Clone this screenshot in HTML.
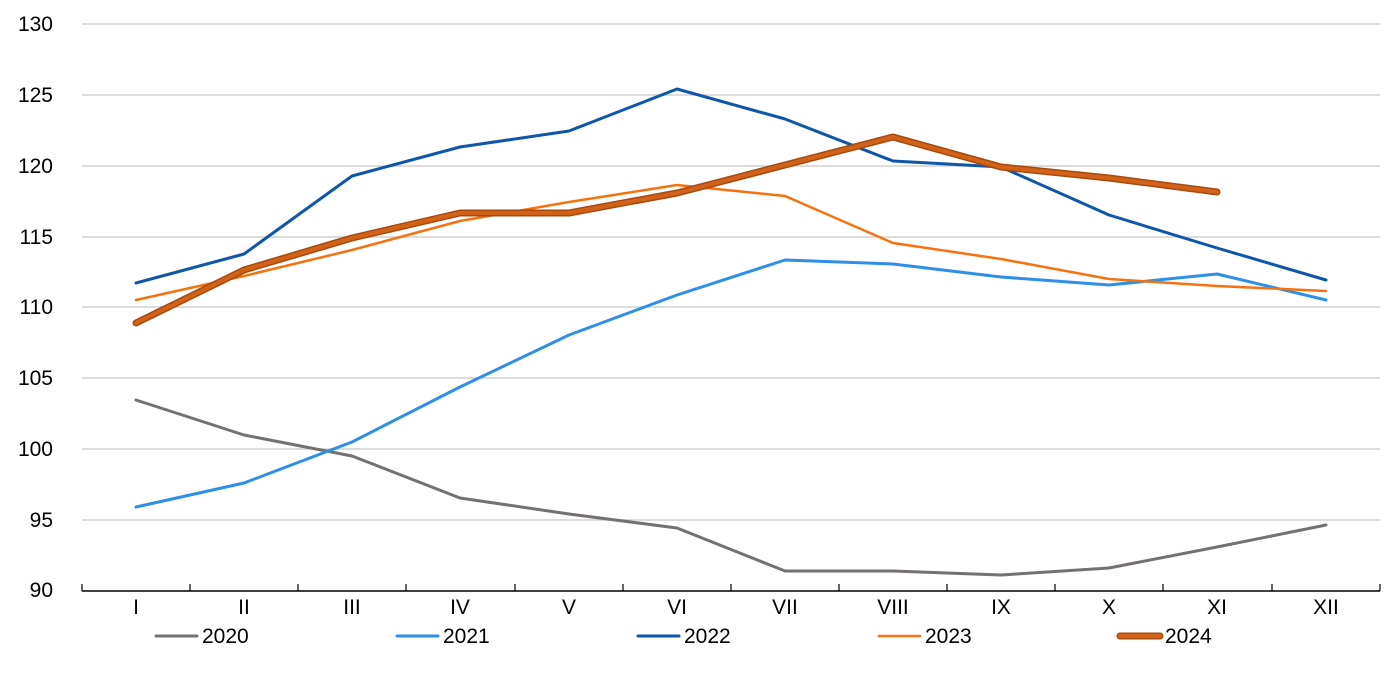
<!DOCTYPE html>
<html><head><meta charset="utf-8"><style>
html,body{margin:0;padding:0;background:#fff;}
svg{display:block;}
text{font-family:"Liberation Sans",sans-serif;font-size:21px;fill:#000;}
</style></head><body>
<svg width="1400" height="678" viewBox="0 0 1400 678" xmlns="http://www.w3.org/2000/svg">
<g stroke="#d0d0d0" stroke-width="1.5">
<line x1="82" y1="24" x2="1380" y2="24"/>
<line x1="82" y1="95" x2="1380" y2="95"/>
<line x1="82" y1="166" x2="1380" y2="166"/>
<line x1="82" y1="237" x2="1380" y2="237"/>
<line x1="82" y1="307" x2="1380" y2="307"/>
<line x1="82" y1="378" x2="1380" y2="378"/>
<line x1="82" y1="449" x2="1380" y2="449"/>
<line x1="82" y1="520" x2="1380" y2="520"/>
</g>
<line x1="82" y1="591" x2="1380" y2="591" stroke="#000" stroke-width="1.5"/>
<g stroke="#000" stroke-width="1.2">
<line x1="82" y1="584" x2="82" y2="591"/><line x1="190" y1="584" x2="190" y2="591"/><line x1="298" y1="584" x2="298" y2="591"/><line x1="406" y1="584" x2="406" y2="591"/><line x1="515" y1="584" x2="515" y2="591"/><line x1="623" y1="584" x2="623" y2="591"/><line x1="731" y1="584" x2="731" y2="591"/><line x1="839" y1="584" x2="839" y2="591"/><line x1="947" y1="584" x2="947" y2="591"/><line x1="1055" y1="584" x2="1055" y2="591"/><line x1="1163" y1="584" x2="1163" y2="591"/><line x1="1272" y1="584" x2="1272" y2="591"/><line x1="1380" y1="584" x2="1380" y2="591"/>
</g>
<g text-anchor="end">
<text x="53" y="31">130</text><text x="53" y="102">125</text><text x="53" y="173">120</text><text x="53" y="244">115</text><text x="53" y="314">110</text><text x="53" y="385">105</text><text x="53" y="456">100</text><text x="53" y="527">95</text><text x="53" y="597">90</text>
</g>
<g text-anchor="middle">
<text x="136" y="614">I</text><text x="244" y="614">II</text><text x="352" y="614">III</text><text x="460" y="614">IV</text><text x="569" y="614">V</text><text x="677" y="614">VI</text><text x="785" y="614">VII</text><text x="893" y="614">VIII</text><text x="1001" y="614">IX</text><text x="1109" y="614">X</text><text x="1217" y="614">XI</text><text x="1326" y="614">XII</text>
</g>
<g fill="none" stroke-linejoin="round" stroke-linecap="round">
<polyline stroke="#767171" stroke-width="3" points="136,400 244,435 352,456 460,498 569,514 677,528 785,571 893,571 1001,575 1109,568 1217,547 1326,525"/>
<polyline stroke="#2e8fe8" stroke-width="3" points="136,507 244,483 352,442 460,387 569,335 677,295 785,260 893,264 1001,277 1109,285 1217,274 1326,300"/>
<polyline stroke="#0f56a8" stroke-width="3" points="136,283 244,254 352,176 460,147 569,131 677,89 785,119 893,161 1001,167 1109,215 1217,248 1326,280"/>
<polyline stroke="#f5720f" stroke-width="2.5" points="136,300 244,276 352,250 460,221 569,202 677,185 785,196 893,243 1001,259 1109,279 1217,286 1326,291"/>
<polyline stroke="#a84a0c" stroke-width="7" points="136,323 244,270 352,238 460,213 569,213 677,193 785,165 893,137 1001,167 1109,178 1217,192"/>
<polyline stroke="#d2621a" stroke-width="4" points="136,323 244,270 352,238 460,213 569,213 677,193 785,165 893,137 1001,167 1109,178 1217,192"/>
</g>
<g stroke-linecap="round">
<line x1="156" y1="636" x2="197" y2="636" stroke="#767171" stroke-width="3"/>
<line x1="397" y1="636" x2="438" y2="636" stroke="#2e8fe8" stroke-width="3"/>
<line x1="638" y1="636" x2="679" y2="636" stroke="#0f56a8" stroke-width="3"/>
<line x1="879" y1="636" x2="920" y2="636" stroke="#f5720f" stroke-width="2.5"/>
<line x1="1120" y1="636" x2="1160" y2="636" stroke="#a84a0c" stroke-width="7"/>
<line x1="1120" y1="636" x2="1160" y2="636" stroke="#d2621a" stroke-width="4"/>
</g>
<text x="202" y="643">2020</text><text x="443" y="643">2021</text><text x="684" y="643">2022</text><text x="925" y="643">2023</text><text x="1165" y="643">2024</text>
</svg>
</body></html>
